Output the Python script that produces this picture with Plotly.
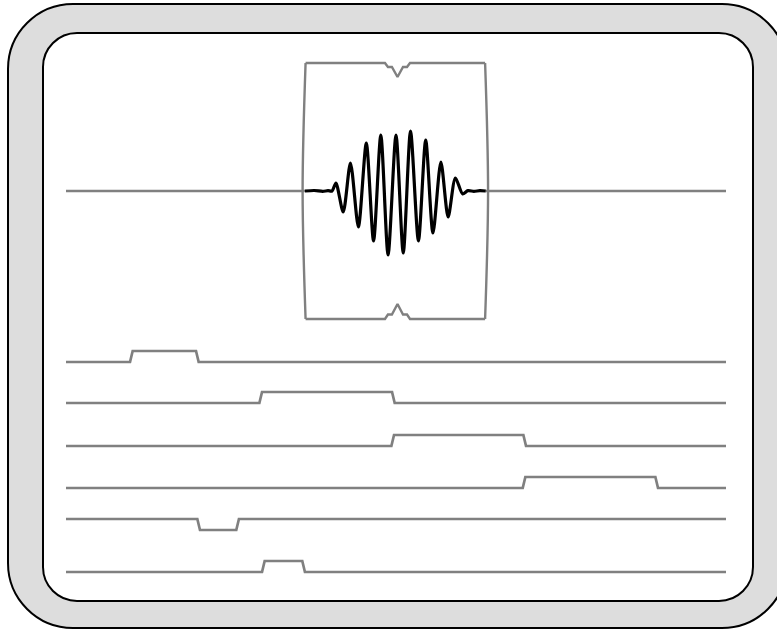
import plotly.graph_objects as go

# ---- time base: trace span runs from t=0 to t=100 ----
T_START, T_END = 0.0, 100.0

# ---- main channel: RF burst captured inside the acquisition gate ----
main_level = 191
gate_start, gate_end = 36.3, 63.5
burst_t = [36.2, 37.6, 38.9, 39.7, 40.3,
           40.9, 42.0, 43.1, 44.3, 45.5, 46.6, 47.7, 48.8, 50.0,
           51.1, 52.2, 53.4, 54.5, 55.6, 56.8, 57.9, 59.0, 60.1,
           60.9, 61.8, 62.7, 63.6]
burst_amp = [0, 0.5, -0.3, 0.3, 0,
             8, -21, 28, -36, 48, -50, 56, -64, 56,
             -62, 60, -50, 51, -42, 29, -26, 13, -3,
             0.4, -0.3, 0.3, 0]

# gate outline: top/bottom levels and centre marker
gate_top, gate_bottom = 63, 319
gate_marker_t = 50.23

# ---- digital channels: baseline level, edge times, polarity ----
channel_levels = [362, 403, 446, 488, 519, 572]
channel_edges = [
    [9.9, 19.9],
    [29.5, 49.6],
    [49.5, 69.5],
    [69.4, 89.5],
    [20.1, 26.0],
    [29.9, 36.0],
]
channel_polarity = [1, 1, 1, 1, -1, 1]
pulse_height = 11

TRACE_GREY = "#808080"
W, H = 777, 630

fig = go.Figure()


def pulse_train(level, edges, pol, ramp=0.4):
    xs, ys = [T_START], [level]
    hi = level - pulse_height * pol
    for a, b in zip(edges[0::2], edges[1::2]):
        xs += [a - ramp / 2, a + ramp / 2, b - ramp / 2, b + ramp / 2]
        ys += [level, hi, hi, level]
    xs.append(T_END)
    ys.append(level)
    return xs, ys


for lvl, edges, pol in zip(channel_levels, channel_edges, channel_polarity):
    xs, ys = pulse_train(lvl, edges, pol)
    fig.add_trace(go.Scatter(x=xs, y=ys, mode="lines",
                             line=dict(color=TRACE_GREY, width=2.7),
                             hoverinfo="skip"))

# main channel baseline outside the gate
for seg in ([T_START, burst_t[0]], [burst_t[-1], T_END]):
    fig.add_trace(go.Scatter(x=seg, y=[main_level, main_level], mode="lines",
                             line=dict(color=TRACE_GREY, width=2.7),
                             hoverinfo="skip"))

# gate window: top and bottom edges with notch markers at the centre
c = gate_marker_t
notch_dx = [-1.9, -1.45, -0.85, 0, 0.83, 1.44, 1.89]
top_x = [gate_start] + [c + d for d in notch_dx] + [gate_end]
top_y = [gate_top, gate_top, gate_top + 4, gate_top + 4, gate_top + 14,
         gate_top + 4, gate_top + 4, gate_top, gate_top]
bot_y = [gate_bottom, gate_bottom, gate_bottom - 4.5, gate_bottom - 4.5,
         gate_bottom - 15, gate_bottom - 4.5, gate_bottom - 4.5, gate_bottom,
         gate_bottom]
for yy in (top_y, bot_y):
    fig.add_trace(go.Scatter(x=top_x, y=yy, mode="lines",
                             line=dict(color=TRACE_GREY, width=2.4),
                             hoverinfo="skip"))

# gate sides, slightly bowed outwards
mid = (gate_top + gate_bottom) / 2
bulge = 0.45
for x_edge, sgn in ((gate_start, -1), (gate_end, 1)):
    fig.add_trace(go.Scatter(x=[x_edge, x_edge + sgn * bulge, x_edge],
                             y=[gate_top, mid, gate_bottom], mode="lines",
                             line=dict(color=TRACE_GREY, width=2.4,
                                       shape="spline"),
                             hoverinfo="skip"))

# the burst itself
fig.add_trace(go.Scatter(x=burst_t, y=[main_level - a for a in burst_amp],
                         mode="lines",
                         line=dict(color="black", width=3.2, shape="spline",
                                   smoothing=0.75),
                         hoverinfo="skip"))


# ---- screen bezel (paper coordinates built from pixel geometry) ----
def rounded_rect(x0, y0, x1, y1, r):
    k = 0.5523 * r
    X = lambda v: v / W
    Y = lambda v: 1 - v / H
    p = lambda x, y: f"{X(x):.5f},{Y(y):.5f}"
    return (f"M {p(x0 + r, y0)} L {p(x1 - r, y0)} "
            f"C {p(x1 - r + k, y0)} {p(x1, y0 + r - k)} {p(x1, y0 + r)} "
            f"L {p(x1, y1 - r)} "
            f"C {p(x1, y1 - r + k)} {p(x1 - r + k, y1)} {p(x1 - r, y1)} "
            f"L {p(x0 + r, y1)} "
            f"C {p(x0 + r - k, y1)} {p(x0, y1 - r + k)} {p(x0, y1 - r)} "
            f"L {p(x0, y0 + r)} "
            f"C {p(x0, y0 + r - k)} {p(x0 + r - k, y0)} {p(x0 + r, y0)} Z")


fig.update_layout(shapes=[
    dict(type="path", xref="paper", yref="paper", layer="below",
         path=rounded_rect(8, 4, 787, 628, 65),
         fillcolor="#dddddd", line=dict(color="black", width=2)),
    dict(type="path", xref="paper", yref="paper", layer="below",
         path=rounded_rect(43, 33, 753, 601, 34),
         fillcolor="white", line=dict(color="black", width=2)),
])

x_per_px = (T_END - T_START) / 660.0
fig.update_layout(
    width=W, height=H,
    margin=dict(l=0, r=0, t=0, b=0),
    paper_bgcolor="white",
    plot_bgcolor="rgba(0,0,0,0)",
    showlegend=False,
    xaxis=dict(visible=False, range=[T_START - 66 * x_per_px,
                                     T_START + (W - 66) * x_per_px]),
    yaxis=dict(visible=False, range=[H, 0]),
)

fig.write_html("out.html")
